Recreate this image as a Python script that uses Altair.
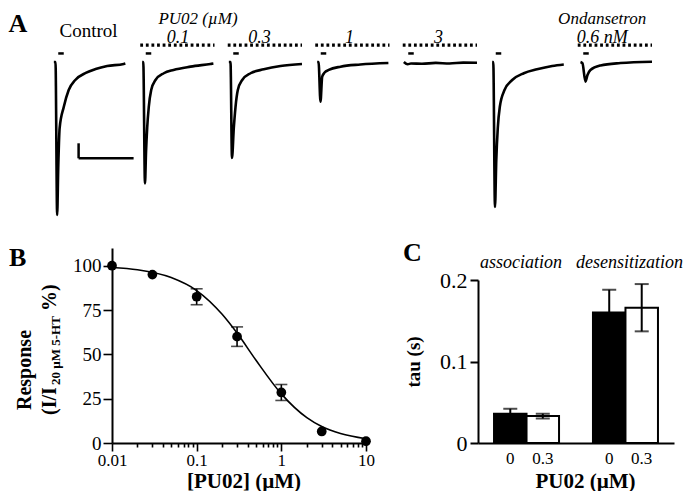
import altair as alt
import pandas as pd

FONT = "Liberation Serif"

# ---------------- Panel A : 5-HT evoked current traces ----------------
# time (s) after start of 5-HT application, current (nA)
ctrl_t = [-0.03, 0.0, 0.03, 0.05, 0.075, 0.15, 0.24, 0.36, 0.55, 0.73, 0.94, 1.24, 1.27]
ctrl_i = [0, 0, -10.2, -7.0, -4.4, -3.0, -1.87, -1.2, -0.73, -0.47, -0.27, -0.13, -0.1]
p01_t = [-0.015, 0.005, 0.036, 0.055, 0.076, 0.105, 0.149, 0.227, 0.378, 0.555, 0.864, 1.227, 1.28]
p01_i = [0, 0, -8.1, -6.0, -4.4, -3.0, -1.87, -1.2, -0.75, -0.53, -0.31, -0.13, -0.1]
p03_t = [-0.03, 0.0, 0.027, 0.06, 0.091, 0.133, 0.213, 0.364, 0.605, 0.909, 1.30]
p03_i = [0, 0, -6.4, -4.4, -3.0, -1.87, -1.2, -0.75, -0.49, -0.27, -0.13]
p1_t = [-0.015, 0.01, 0.045, 0.076, 0.12, 0.196, 0.41, 0.77, 1.28]
p1_i = [0, 0, -2.65, -0.98, -0.7, -0.53, -0.31, -0.17, -0.07]
p3_t = [-0.03, 0.04, 0.1, 0.3, 0.55, 0.8, 1.05, 1.3]
p3_i = [0, -0.15, -0.1, -0.12, -0.06, -0.1, -0.04, -0.05]
wash_t = [-0.015, 0.005, 0.036, 0.06, 0.087, 0.124, 0.209, 0.349, 0.56, 0.80, 1.076, 1.287]
wash_i = [0, 0, -9.67, -6.5, -4.4, -2.98, -1.87, -1.2, -0.75, -0.49, -0.27, -0.17]
ond_t = [0.0, 0.036, 0.09, 0.127, 0.18, 0.364, 0.727, 1.30]
ond_i = [0, -0.09, -1.31, -0.87, -0.53, -0.23, -0.07, 0.02]

trace_names = ["Control", "PU02 0.1", "PU02 0.3", "PU02 1", "PU02 3", "Wash", "Ondansetron"]
trace_t = [ctrl_t, p01_t, p03_t, p1_t, p3_t, wash_t, ond_t]
trace_i = [ctrl_i, p01_i, p03_i, p1_i, p3_i, wash_i, ond_i]
drug_on = [False, True, True, True, True, False, True]   # dotted bar = antagonist present
drug_period = [-0.05, 1.30]
stim_period = [0.05, 0.15]                                 # 5-HT application
scalebar_t = [0.42, 1.42]                                  # 1 s
scalebar_i = [-6.42, -5.42]                                # 1 nA

# ---------------- Panel B : concentration-response ----------------
conc = [0.01, 0.03, 0.1, 0.3, 1, 3, 10]
resp = [100, 95, 82.5, 60, 28.5, 6.5, 1]
resp_sem = [0, 0, 4.5, 5.5, 4.5, 0, 0]
fit_x = [0.01, 0.02, 0.05, 0.1, 0.2, 0.3, 0.5, 1, 2, 3, 5, 10]
fit_y = [99, 97.7, 93.3, 86, 72.6, 62, 46.8, 27.7, 14.3, 9.3, 5.3, 2.4]
major_ticks = [0.01, 0.1, 1, 10]
minor_ticks = [0.02, 0.03, 0.04, 0.05, 0.06, 0.07, 0.08, 0.09,
               0.2, 0.3, 0.4, 0.5, 0.6, 0.7, 0.8, 0.9,
               2, 3, 4, 5, 6, 7, 8, 9]

# ---------------- Panel C : time constants ----------------
kinetics = ["association", "association", "desensitization", "desensitization"]
pu02 = ["0", "0.3", "0", "0.3"]
tau = [0.036, 0.033, 0.160, 0.166]
tau_sem = [0.006, 0.003, 0.028, 0.029]

# =====================================================================
SLOT_PX, PX_PER_S = 87.5, 55.0
SLOT = SLOT_PX / PX_PER_S
AW, AH = 605, 212
xsA = alt.Scale(domain=[-0.1, -0.1 + AW / PX_PER_S], nice=False, zero=False)
ysA = alt.Scale(domain=[-10.533, 3.6], nice=False, zero=False)

rows = []
for k in range(7):
    for t, i in zip(trace_t[k], trace_i[k]):
        rows.append({"trace": trace_names[k], "t": t + k * SLOT, "i": i})
dfTr = pd.DataFrame(rows)
dfStim = pd.DataFrame({"t0": [stim_period[0] + k * SLOT for k in range(7)],
                       "t1": [stim_period[1] + k * SLOT for k in range(7)],
                       "lvl": [0.57] * 7})
dk = [k for k in range(7) if drug_on[k]]
dfDrug = pd.DataFrame({"t0": [drug_period[0] + k * SLOT for k in dk],
                       "t1": [drug_period[1] + k * SLOT for k in dk],
                       "lvl": [1.13] * len(dk)})
dfSB = pd.DataFrame({"t0": [scalebar_t[0]], "t1": [scalebar_t[1]],
                     "i0": [scalebar_i[0]], "i1": [scalebar_i[1]]})

lines = alt.Chart(dfTr).mark_line(color="black", strokeWidth=2.6, interpolate="monotone").encode(
    x=alt.X("t:Q", scale=xsA, axis=None), y=alt.Y("i:Q", scale=ysA, axis=None), detail="trace:N")
stim = alt.Chart(dfStim).mark_rule(color="black", strokeWidth=2.5).encode(
    x=alt.X("t0:Q", scale=xsA, axis=None), x2="t1:Q", y=alt.Y("lvl:Q", scale=ysA, axis=None))
drug = alt.Chart(dfDrug).mark_rule(color="black", strokeWidth=3.2, strokeDash=[2.8, 2.8]).encode(
    x=alt.X("t0:Q", scale=xsA, axis=None), x2="t1:Q", y=alt.Y("lvl:Q", scale=ysA, axis=None))
sb_h = alt.Chart(dfSB).mark_rule(color="black", strokeWidth=2.5).encode(
    x=alt.X("t0:Q", scale=xsA, axis=None), x2="t1:Q", y=alt.Y("i0:Q", scale=ysA, axis=None))
sb_v = alt.Chart(dfSB).mark_rule(color="black", strokeWidth=2.5).encode(
    x=alt.X("t0:Q", scale=xsA, axis=None), y=alt.Y("i0:Q", scale=ysA, axis=None), y2="i1:Q")


def txt(s, x, y, fs, align="left", baseline="alphabetic", weight="bold", style="normal", angle=0):
    kw = dict(font=FONT, fontSize=fs, fontWeight=weight, fontStyle=style, align=align,
              baseline=baseline, color="black")
    if angle:
        kw["angle"] = angle
    return alt.Chart(pd.DataFrame({"s": [s]})).mark_text(**kw).encode(
        x=alt.value(x), y=alt.value(y), text="s:N")


# (text, slot, x within slot, y, align, baseline, style, weight, size)
labels_A = [
    ("A", 0, -41.5, 2.5, "left", "top", "normal", "bold", 26),
    ("Control", 0, 38.5, 29, "center", "alphabetic", "normal", "normal", 19),
    ("PU02 (µM)", 1, 60.5, 2.5, "center", "top", "italic", "normal", 17),
    ("0.1", 1, 40.5, 35, "center", "alphabetic", "italic", "normal", 18),
    ("0.3", 2, 34.5, 35, "center", "alphabetic", "italic", "normal", 18),
    ("1", 3, 37, 35, "center", "alphabetic", "italic", "normal", 18),
    ("3", 4, 38.5, 35, "center", "alphabetic", "italic", "normal", 18),
    ("Ondansetron", 6, 27.2, 2.5, "center", "top", "italic", "normal", 17),
    ("0.6 nM", 6, 27.2, 35, "center", "alphabetic", "italic", "normal", 18),
]
txtA = [txt(s, k * SLOT_PX + px, py, fs, align=al, baseline=bl, weight=wt, style=st)
        for (s, k, px, py, al, bl, st, wt, fs) in labels_A]

chartA = alt.layer(lines, stim, drug, sb_h, sb_v, *txtA).properties(width=AW, height=AH)

# ---------------- B ----------------
BW, BH = 254, 195
dfB = pd.DataFrame({"c": conc, "r": resp, "sem": resp_sem})
dfB["lo"] = dfB["r"] - dfB["sem"]
dfB["hi"] = dfB["r"] + dfB["sem"]
dfFit = pd.DataFrame({"c": fit_x, "r": fit_y})
xsB = alt.Scale(type="log", domain=[0.01, 10], nice=False)
ysB = alt.Scale(domain=[0, 110], nice=False)
is_major = "indexof([0.01, 0.1, 1, 10], datum.value) >= 0"
xaxB = alt.Axis(values=major_ticks + minor_ticks,
                tickSize={"condition": {"test": is_major, "value": 8}, "value": 4},
                labelExpr=is_major + " ? format(datum.value, '~g') : ''",
                labelFont=FONT, labelFontSize=17, labelPadding=1, labelOverlap=False,
                labelFlush=False, labelBound=False,
                title="[PU02] (µM)", titleFont=FONT, titleFontSize=21, titleFontWeight="bold",
                titleX=131.5, titleY=27, titleBaseline="top", titleAlign="center")
yaxB = alt.Axis(values=[0, 25, 50, 75, 100], tickSize=9, labelFont=FONT, labelFontSize=19,
                labelPadding=2, title=None)

fit = alt.Chart(dfFit).mark_line(color="black", strokeWidth=1.6, interpolate="monotone").encode(
    x=alt.X("c:Q", scale=xsB, axis=xaxB), y=alt.Y("r:Q", scale=ysB, axis=yaxB))
errB = dfB[dfB["sem"] > 0]
err_rule = alt.Chart(errB).mark_rule(color="black", strokeWidth=1.6).encode(
    x=alt.X("c:Q", scale=xsB), y=alt.Y("lo:Q", scale=ysB), y2="hi:Q")
cap_hi = alt.Chart(errB).mark_tick(color="black", thickness=1.6, size=12, orient="horizontal").encode(
    x=alt.X("c:Q", scale=xsB), y=alt.Y("hi:Q", scale=ysB))
cap_lo = alt.Chart(errB).mark_tick(color="black", thickness=1.6, size=12, orient="horizontal").encode(
    x=alt.X("c:Q", scale=xsB), y=alt.Y("lo:Q", scale=ysB))
pts = alt.Chart(dfB).mark_circle(color="black", size=95, opacity=1).encode(
    x=alt.X("c:Q", scale=xsB), y=alt.Y("r:Q", scale=ysB))

labB = txt("B", -103, 18, 26)
yt1 = txt("Response", -81, 122, 20, align="center", angle=270)
yt2 = txt("(I/I", -56, 167, 20, angle=270)
yt3 = txt("20 µM 5-HT", -52, 137, 13, angle=270)
yt4 = txt("%)", -56, 63, 20, angle=270)

chartB = alt.layer(fit, err_rule, cap_hi, cap_lo, pts, labB, yt1, yt2, yt3, yt4).properties(width=BW, height=BH)

# ---------------- C ----------------
CW, CH = 196, 163
dfC = pd.DataFrame({"k": kinetics, "p": pu02, "tau": tau, "sem": tau_sem})
dfC["lo"] = dfC["tau"] - dfC["sem"]
dfC["hi"] = dfC["tau"] + dfC["sem"]
xsC = alt.Scale(domain=["association", "desensitization"], paddingInner=0.343, paddingOuter=0.162)
xoC = alt.Scale(domain=["0", "0.3"], paddingInner=0, paddingOuter=0)
ysC = alt.Scale(domain=[0, 0.2], nice=False)
xaxC = alt.Axis(ticks=False, labels=False, domainWidth=2, title="PU02 (µM)", titleFont=FONT,
                titleFontSize=21, titleFontWeight="bold", titleX=107, titleY=27,
                titleBaseline="top", titleAlign="center")
yaxC = alt.Axis(values=[0, 0.1, 0.2], tickSize=8, tickWidth=2, labelFont=FONT, labelFontSize=22,
                labelPadding=3, labelExpr="format(datum.value, '~g')",
                title="tau (s)", titleFont=FONT, titleFontSize=19, titleFontWeight="bold", titleAngle=270,
                titleX=-64.5, titleY=81.5, titleAlign="center", titleBaseline="middle")

bars = alt.Chart(dfC).mark_bar(stroke="black", strokeWidth=2).encode(
    x=alt.X("k:N", scale=xsC, axis=xaxC),
    xOffset=alt.XOffset("p:N", scale=xoC),
    y=alt.Y("tau:Q", scale=ysC, axis=yaxC),
    fill=alt.Fill("p:N", scale=alt.Scale(domain=["0", "0.3"], range=["black", "white"]), legend=None))
errC = alt.Chart(dfC).mark_rule(color="black", strokeWidth=2).encode(
    x=alt.X("k:N", scale=xsC), xOffset=alt.XOffset("p:N", scale=xoC),
    y=alt.Y("lo:Q", scale=ysC), y2="hi:Q")
capC_hi = alt.Chart(dfC).mark_tick(color="black", thickness=2, size=14, orient="horizontal").encode(
    x=alt.X("k:N", scale=xsC), xOffset=alt.XOffset("p:N", scale=xoC), y=alt.Y("hi:Q", scale=ysC))
capC_lo = alt.Chart(dfC).mark_tick(color="black", thickness=2, size=14, orient="horizontal").encode(
    x=alt.X("k:N", scale=xsC), xOffset=alt.XOffset("p:N", scale=xoC), y=alt.Y("lo:Q", scale=ysC))
barlab = alt.Chart(dfC).mark_text(font=FONT, fontSize=17, baseline="middle", dy=16, color="black").encode(
    x=alt.X("k:N", scale=xsC), xOffset=alt.XOffset("p:N", scale=xoC), y=alt.datum(0), text="p:N")
grp = pd.DataFrame({"k": ["association", "desensitization"]})
glab1 = alt.Chart(grp).transform_filter("datum.k == 'association'").mark_text(
    font=FONT, fontSize=18, fontStyle="italic", baseline="alphabetic", dy=-12, dx=-5.5, color="black").encode(
    x=alt.X("k:N", scale=xsC), y=alt.datum(0.2), text="k:N")
glab2 = alt.Chart(grp).transform_filter("datum.k == 'desensitization'").mark_text(
    font=FONT, fontSize=18, fontStyle="italic", baseline="alphabetic", dy=-12, dx=4, color="black").encode(
    x=alt.X("k:N", scale=xsC), y=alt.datum(0.2), text="k:N")
labC = txt("C", -75, -19, 26)

chartC = alt.layer(bars, errC, capC_hi, capC_lo, barlab, glab1, glab2, labC).properties(width=CW, height=CH)


def spacer(w, h):
    return alt.Chart(pd.DataFrame({"v": [0]})).mark_point(opacity=0).encode(
        x=alt.X("v:Q", axis=None), y=alt.Y("v:Q", axis=None)).properties(width=w, height=h)


colC = alt.vconcat(spacer(CW, 32), chartC, spacing=0, bounds="flush")
rowB = alt.hconcat(spacer(61.5, 10), chartB, spacer(112, 10), colC, spacing=0, bounds="flush")

chart = alt.vconcat(chartA, rowB, spacing=28, bounds="flush").properties(
    padding=0
).configure_view(
    stroke=None
).configure_axis(
    labelFont=FONT, titleFont=FONT, labelColor="black", titleColor="black",
    domainColor="black", tickColor="black", domainWidth=2, tickWidth=1.6, grid=False
)

chart.save("out.html", embed_options={"renderer": "svg", "actions": False})
